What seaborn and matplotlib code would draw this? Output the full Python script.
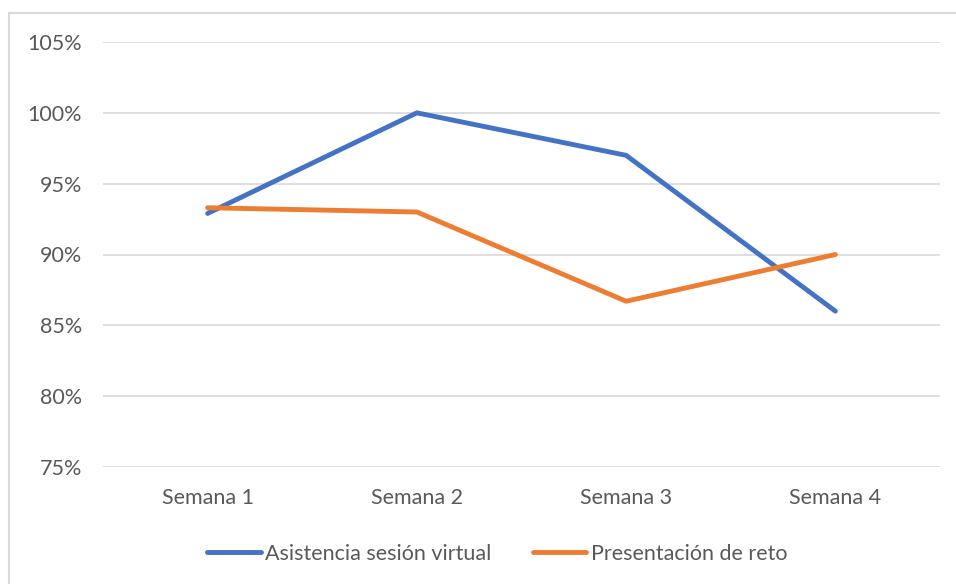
import matplotlib
matplotlib.use("Agg")
import matplotlib.pyplot as plt
from matplotlib.patches import Rectangle
from matplotlib.ticker import FuncFormatter
import pandas as pd
import seaborn as sns

semanas = ["Semana 1", "Semana 2", "Semana 3", "Semana 4"]
asistencia = [92.9, 100.0, 97.0, 86.0]
presentacion = [93.3, 93.0, 86.7, 90.0]
series = ["Asistencia sesión virtual", "Presentación de reto"]

df = pd.DataFrame({
    "semana": semanas * 2,
    "valor": asistencia + presentacion,
    "serie": [series[0]] * 4 + [series[1]] * 4,
})

sns.set_theme(style="white")
plt.rcParams["font.family"] = ["Lato", "DejaVu Sans"]

fig = plt.figure(figsize=(9.56, 5.84), dpi=100)
ax = fig.add_axes([103 / 956, 1 - 467 / 584, (940 - 103) / 956, (467 - 42) / 584])

sns.lineplot(data=df, x="semana", y="valor", hue="serie", ax=ax,
             palette=["#4472C4", "#ED7D31"], linewidth=3.5, sort=False,
             solid_capstyle="round", legend=True)

ax.set_xlim(-0.5, 3.5)
ax.set_ylim(75, 105)
ax.set_yticks(range(75, 106, 5))
ax.yaxis.set_major_formatter(FuncFormatter(lambda v, p: f"{v:.0f}%"))
ax.grid(axis="y", color="#D9D9D9", linewidth=1.2)
ax.set_axisbelow(True)
for s in ax.spines.values():
    s.set_visible(False)
ax.set_xlabel("")
ax.set_ylabel("")
ax.tick_params(axis="both", length=0, labelsize=15.5, colors="#595959")
ax.tick_params(axis="y", pad=15)
ax.tick_params(axis="x", pad=15)

# legend sits a bit left of the plot centre, like the original
leg = ax.legend(loc="upper center", bbox_to_anchor=(0.471, -0.135), ncol=2,
                frameon=False, fontsize=15.5, handlelength=2.5,
                handletextpad=0.2, columnspacing=1.9)
for t in leg.get_texts():
    t.set_color("#595959")
for h in leg.get_lines():
    h.set_linewidth(3.5)

fig.patches.append(Rectangle((9 / 956, -0.1), 1.2, (584 - 13) / 584 + 0.1,
                             transform=fig.transFigure, fill=False,
                             edgecolor="#D9D9D9", linewidth=1.5))

fig.savefig("out.png", dpi=100)
